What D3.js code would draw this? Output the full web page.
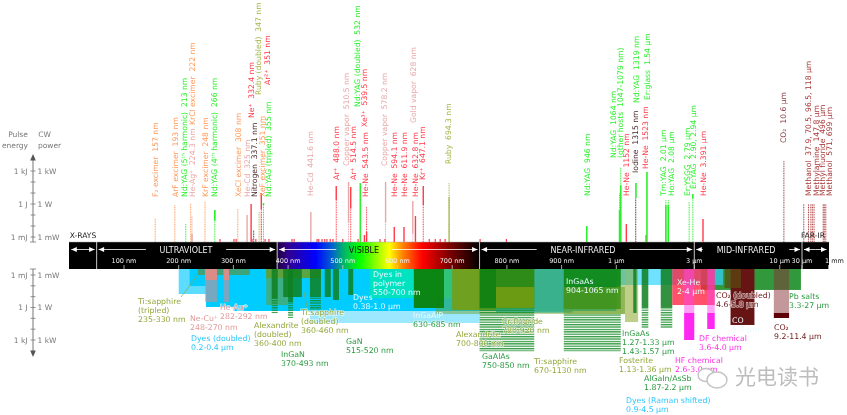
<!DOCTYPE html>
<html><head><meta charset="utf-8">
<script src="https://cdn.jsdelivr.net/npm/d3@7"></script>
<style>html,body{margin:0;background:#fff}svg{display:block;font-family:"DejaVu Sans";filter:blur(.35px)}</style>
</head><body><svg id="c" width="847" height="415"></svg>
<script>
/* ---------- data ---------- */
const lineNames=["F₂ excimer  157 nm","ArF excimer  193 nm","Nd:YAG (5ᵗʰ harmonic)  213 nm","He-Ag⁺  224.3 nm","KrCl excimer  222 nm","KrF excimer  248 nm","Nd:YAG (4ᵗʰ harmonic)  266 nm","XeCl excimer  308 nm","He-Cd  325 nm","Nitrogen  337.1 nm","XeF excimer  351 nm","Nd:YAG (tripled)  355 nm","Ne⁺  332.4 nm","Ruby (doubled)  347 nm","Ar²⁺  351 nm",
"He-Cd  441.6 nm","Ar⁺  488.0 nm","Copper vapor  510.5 nm","Ar⁺  514.5 nm","Nd:YAG (doubled)  532 nm","Xe³⁺  539.5 nm","He-Ne  543.5 nm","Copper vapor  578.2 nm","He-Ne  594.1 nm","He-Ne  611.9 nm","He-Ne  632.8 nm","Gold vapor  628 nm","Kr⁺  647.1 nm","Ruby  694.3 nm",
"Nd:YAG  946 nm","Nd:YAG  1064 nm","(other hosts  1047-1079 nm)","He-Ne  1152 nm","Iodine  1315 nm","Nd:YAG  1319 nm","He-Ne  1523 nm","Er:glass  1.54 µm","Tm:YAG  2.01 µm","Ho:YAG  2.08 µm","Er:YSGG  2.79 µm","Er:YAG  2.90, 2.94 µm","He-Ne  3.391 µm","CO₂  10.6 µm"];
const lineNm=[157,193,213,224.3,222,248,266,308,325,337.1,351,355,332.4,347,351,
441.6,488,510.5,514.5,532,539.5,543.5,578.2,594.1,611.9,632.8,628,647.1,694.3,
946,1064,1047,1152,1315,1319,1523,1540,2010,2080,2790,2940,3391,10600];
const lineKinds=["exc","exc","ss","pink","exc","exc","ss","exc","pink","dark","exc","ss","ion","ruby","ion",
"pink","ion","pink","ion","ss","ion","ion","pink","ion","ion","ion","pink","ion","ruby",
"ss","ss","ss","ion","dark","ss","ion","ss","ss","ss","ss","ss","ion","co2"];
const lineDotted=[.054,.8,.015,.08,1.2,1.9,.28,.35,0,.0044,.19,1.2,0,.19,.3,
0,2.3,.02,.4,0,0,.5,.02,0,0,0,.002,.8,80,
0,2300,10,0,3.5,0,0,0,2.3,2.3,1.5,3,0,8000];
const lineSolidTop=[0,0,0,.002,0,0,.28,0,.1,0,0,1.2,1,0,10,
.19,44,100,35,80,.0015,.003,100,.008,.008,.08,1.9,44,4.4,
.01,50,.28,.015,0,80,.0015,800,.8,.8,0,8,.044,0];
const lineSolidBase=[0,0,0,0,0,0,.03,0,0,0,0,.8,0,0,.3,
0,2.3,.02,.4,0,0,0,.02,0,0,0,.002,.8,0,
0,0,0,0,0,3.5,0,0,0,0,0,3,0,0];
const farIrNames=["Methanol  37.9, 70.5, 96.5, 118 µm","Methylamine  147.8 µm","Methyl fluoride  496 µm","Methanol  571, 699 µm"];
const farIrNm=[37900,70500,96500,118000,147800,496000,571000,699000];
const farIrEnergy=[1,1,1,1,1,1,1,1];
const minorLinesNm=[275.5,301,305,334,341,358,365,407,411,453,456,462,467,471,477,482,500,528,568,577,658,669,678,687,751,799];
const minorLinesPower=[.00065,.00065,.00065,.00065,.00065,.00065,.00065,.00065,.00065,.00065,.00065,.00065,.00065,.00065,.00065,.00065,.00065,.00065,.00065,.00065,.00065,.00065,.00065,.00065,.00065,.00065];

const bandKinds=["dyeLight","dye","dye","dye","dyeFaint","dye","lead","raman","polymer","ti","tiTrip","pinkFaint","pinkSolid","pinkFaint","pinkSolid","tiDbl","alexDbl","gan","gan","gan","gan","gan","gan","gan","gan","solidGreen","alex","cr","gan2","crOver","crOverTop","solidGreen","tiOver","foster","gan","gan","gan","xehe","magFaint","magSolid","magFaint","magSolid","co","coDbl","co2Faint","co2Solid"];
const bandLo=[200,220,250,300,440,380,3300,900,550,670,235,248,248,282,282,360,360,370,391,400,440,467,482,510,630,630,700,780,750,780,780,904,904,1130,1270,1430,1870,2200,2600,2600,3600,3600,5000,4600,9200,9200];
const bandHi=[400,400,400,400,750,1000,27000,4500,700,1130,330,270,270,292,292,460,400,381,425,409,460,478,493,519,685,685,800,920,850,850,850,1065,1130,1360,1330,1570,2200,4000,3000,3000,4000,4000,7000,5800,11400,11400];
const bandFrom=[0,0,0,0,0,0,0,0,0,0,0,0,0,0,0,0,0,0,0,0,0,0,0,0,0,0,0,0,0,.0127,0,0,.0127,0,0,0,0,0,0,3.2,0,3.2,0,0,0,3.2];
const bandTo=[.057,.0104,.9,2.1,27,2.1,.024,.0084,.133,4,.001,.31,.0029,.31,.0029,.0019,.59,.16,.107,.31,.107,.107,.2,.07,1.1,1.1,1.7,3,1.1,1.1,.0127,1.4,4,22,3.2,1.1,1.1,.59,3.2,1000,3.2,97,41,.016,3.2,9.3];

const stripeLo=[370,400,440,750,904,1430,1870];
const stripeHi=[381,409,460,850,1065,1570,2200];
const stripeFrom=[.16,.31,.107,1.1,4,1.1,1.1];
const stripeTo=[3.2,9.3,1.7,11000,11000,77,77];

const noteLines=[["Ti:sapphire","(tripled)","235-330 nm"],["Ne-Cu⁺","248-270 nm"],["He-Au⁺","282-292 nm"],["Dyes (doubled)","0.2-0.4 µm"],["Alexandrite","(doubled)","360-400 nm"],["InGaN","370-493 nm"],["Ti:sapphire","(doubled)","360-460 nm"],["GaN","515-520 nm"],["Dyes","0.38-1.0 µm"],["Dyes in","polymer","550-700 nm"],["InGaAlP","630-685 nm"],["Alexandrite","700-800 nm"],["Cr:fluoride","780-920 nm"],["GaAlAs","750-850 nm"],["Ti:sapphire","670-1130 nm"],["InGaAs","904-1065 nm"],["InGaAs","1.27-1.33 µm","1.43-1.57 µm"],["Fosterite","1.13-1.36 µm"],["AlGaIn/AsSb","1.87-2.2 µm"],["Dyes (Raman shifted)","0.9-4.5 µm"],["HF chemical","2.6-3.0 µm"],["DF chemical","3.6-4.0 µm"],["Xe-He","2-4 µm"],["CO₂ (doubled)","4.6-5.8 µm"],["CO","5-7 µm"],["CO₂","9.2-11.4 µm"],["Pb salts","3.3-27 µm"]];
const noteKinds=["olive","pinkT","pinkT","cyan","olive","green","olive","green","white","white","whiteGreen","olive","olive","green","olive","white","green","olive","green","cyan","mag","mag","white","maroon","white","maroon","green"];

const regionNames=["","ULTRAVIOLET","VISIBLE","NEAR-INFRARED","MID-INFRARED",""];
const regionEdgesNm=[0,50,380,750,3000,30000,1000000];
const outerRegionLabels=["X-RAYS","FAR-IR"];
const tickNm=[100,200,300,400,500,600,700,800,900,1000,3000,10000,30000,1000000];
const tickText=["100 nm","200 nm","300 nm","400 nm","500 nm","600 nm","700 nm","800 nm","900 nm","1 µm","3 µm","10 µm","30 µm","1 mm"];
const decades=[1e-3,1e-2,1e-1,1,10,100,1e3];
const energyLabels=["1 mJ","1 J","1 kJ"], powerLabels=["1 mW","1 W","1 kW"], labelledDecades=[1e-3,1,1e3];
const rainbowNm=[380,400,450,480,500,530,585,610,645,700,750];
const rainbowColors=["#200040","#300090","#0000ff","#0060d0","#00b070","#00ff00","#ffff00","#ff8000","#ff0000","#700000","#000000"];

/* ---------- layout (separate from data) ---------- */
const lineLabelX=[155,175,184,192,192,205,214,238,247,254,262,268,251,258,267,
310,336,346,353,357,364,365,384,394,404,415,413,422,448,
587,613,620,626,635,636,645,647,663,671,687,693,703,783];
const lineLabelBase=[197,197,197,197,125,197,197,197,197,197,197,197,118,95,85,
196,180,166,180,107,127,197,166,197,197,197,123,180,164,
196,158,158,196,173,103,169,100,196,196,196,189,196,143];
const farIrLabelX=[808,816,822,829], farIrLabelBase=[196,196,196,196];
const noteX=[138,190,220,191,254,281,301,346,353,373,413,456,502,482,534,566,622,619,644,626,675,699,677,716,732,774,789];
const noteY=[301,318,307,338,325,354,312,341,297,274,315,334,321,356,361,281,333,360,378,400,360,338,282,295,320,327,296];

/* ---------- scales ---------- */
const W=847,H=415,barTop=242,barBot=269,barL=69,barR=829;
const xNear=d3.scaleLinear().domain([0,1000]).range([69.3,616.3]);
const xFar=d3.scaleLog().domain([1000,12000,30000,1e6]).range([616.3,792.7,802,828.5]);
const x=nm=>nm<=1000?xNear(nm):xFar(nm);
const yUp=d3.scaleLog().domain([1e-3,1e3]).range([237,171]);
const yDn=d3.scaleLog().domain([1e-3,1e3]).range([275,340]);
const svg=d3.select("#c");
const defs=svg.append("defs");

const styleLine={exc:"#ff9a5a",ss:"#2bf02b",pink:"#e8a8a8",ion:"#ff3a48",ruby:"#a4b548",dark:"#4a2a2a",co2:"#8a3c40",fir:"#a83838"};
const styleBand={dyeLight:["#5cdcff",1],dye:["#00ccff",1],dyeFaint:["#9be8ff",1],raman:["#33d4ff",.7],polymer:["#00e2c0",1],lead:["#1f8f2b",.92],ti:["#6b9e23",.45],tiOver:["#6b9e23",.55],tiTrip:["#3da47c",1],pinkFaint:["#d88a8a",.55],pinkSolid:["#d98c88",1],tiDbl:["#6b9e23",.85],alexDbl:["#5f9c3a",.62],gan:["#0f7f1f",.85],gan2:["#0b7f12",.92],solidGreen:["#0b840f",.88],alex:["#6fa020",1],cr:["#3cb08c",.9],crOver:["#7aa010",.85],crOverTop:["#7aa010",.3],foster:["#8aa82a",.55],xehe:["#ff2040",.78],magFaint:["#ff44ee",.5],magSolid:["#ff28f0",1],coDbl:["#5a4a10",.72],co:["#661414",1],co2Faint:["#8a3038",.5],co2Solid:["#5e0008",1]};
const styleNote={olive:"#93a83c",pinkT:"#e09a9a",cyan:"#2cc8ff",green:"#2c9a42",white:"#e8fbff",whiteGreen:"#e8fbff",mag:"#ff30e8",maroon:"#6e1c1c"};

/* ---------- stripes ---------- */
const p=defs.append("pattern").attr("id","stripes").attr("width",3).attr("height",2.4).attr("patternUnits","userSpaceOnUse");
p.append("rect").attr("width",3).attr("height",1.3).attr("fill","#128a22").attr("opacity",.85);

/* ---------- lower bands ---------- */
const gB=svg.append("g");
const yOf=v=>v?yDn(v):barBot;
gB.selectAll("rect").data(bandKinds).join("rect")
 .attr("x",(d,i)=>x(bandLo[i])).attr("width",(d,i)=>x(bandHi[i])-x(bandLo[i]))
 .attr("y",(d,i)=>yOf(bandFrom[i])).attr("height",(d,i)=>yDn(bandTo[i])-yOf(bandFrom[i]))
 .attr("fill",d=>styleBand[d][0]).attr("opacity",d=>styleBand[d][1]);
svg.append("g").selectAll("rect").data(stripeLo).join("rect")
 .attr("x",(d,i)=>x(d)).attr("width",(d,i)=>x(stripeHi[i])-x(d))
 .attr("y",(d,i)=>yDn(stripeFrom[i])).attr("height",(d,i)=>yDn(stripeTo[i])-yDn(stripeFrom[i]))
 .attr("fill","url(#stripes)");

/* leader lines */
svg.append("line").attr("x1",x(235)).attr("y1",yDn(.001)).attr("x2",181).attr("y2",297).attr("stroke","#93a83c").attr("stroke-width",.7);
svg.append("line").attr("x1",304).attr("y1",292).attr("x2",307).attr("y2",307).attr("stroke","#93a83c").attr("stroke-width",.7);

/* ---------- upper lines ---------- */
const gL=svg.append("g");
const lw=k=>k==="ss"?1.6:(k==="ion"||k==="pink")?1.4:1.1;
lineNames.forEach((n,i)=>{
 const c=styleLine[lineKinds[i]], px=x(lineNm[i]);
 if(lineDotted[i]) gL.append("line").attr("x1",px).attr("x2",px).attr("y1",barTop).attr("y2",yUp(lineDotted[i])).attr("stroke",c).attr("stroke-width",1).attr("stroke-dasharray","1 .7");
 if(lineSolidTop[i]) gL.append("line").attr("x1",px).attr("x2",px).attr("y1",lineSolidBase[i]?yUp(lineSolidBase[i]):barTop).attr("y2",yUp(lineSolidTop[i])).attr("stroke",c).attr("stroke-width",lw(lineKinds[i]));
});
farIrNm.forEach((nm,i)=>gL.append("line").attr("x1",x(nm)).attr("x2",x(nm)).attr("y1",barTop).attr("y2",yUp(farIrEnergy[i])).attr("stroke",styleLine.fir).attr("stroke-width",1).attr("stroke-dasharray","1 .7"));
gL.selectAll(".minor").data(minorLinesNm).join("line").attr("class","minor")
 .attr("x1",d=>x(d)).attr("x2",d=>x(d)).attr("y1",barTop).attr("y2",(d,i)=>yUp(minorLinesPower[i])).attr("stroke","#ff3a48").attr("stroke-width",1.2);

/* rotated labels */
const gT=svg.append("g").attr("font-size",7.65);
const rot=(t,px,py,c)=>gT.append("text").attr("transform",`translate(${px},${py}) rotate(-90)`).attr("dy",".35em").attr("fill",c).style("white-space","pre").text(t);
lineNames.forEach((t,i)=>rot(t,lineLabelX[i],lineLabelBase[i],styleLine[lineKinds[i]]));
farIrNames.forEach((t,i)=>rot(t,farIrLabelX[i],farIrLabelBase[i],styleLine.fir));

/* ---------- spectrum bar ---------- */
const grad=defs.append("linearGradient").attr("id","vis").attr("gradientUnits","userSpaceOnUse").attr("x1",x(380)).attr("x2",x(750));
rainbowNm.forEach((nm,i)=>grad.append("stop").attr("offset",(x(nm)-x(380))/(x(750)-x(380))).attr("stop-color",rainbowColors[i]));
svg.append("rect").attr("x",barL).attr("y",barTop).attr("width",barR-barL).attr("height",barBot-barTop).attr("fill","#000");
svg.append("rect").attr("x",x(380)).attr("y",barTop).attr("width",x(750)-x(380)).attr("height",barBot-barTop).attr("fill","url(#vis)");
svg.append("line").attr("x1",barL).attr("x2",barR).attr("y1",barTop).attr("y2",barTop).attr("stroke","#aaa").attr("stroke-width",.5);

const aY=249.5;
const head=(px,dir)=>svg.append("path").attr("d",`M${px},${aY}l${dir*5.5},-2.6v5.2z`).attr("fill","#fff");
regionNames.forEach((name,i)=>{
 const a=x(regionEdgesNm[i]),b=x(regionEdgesNm[i+1]),m=(name==="NEAR-INFRARED")?583:(name==="MID-INFRARED")?746:(name==="VISIBLE")?364:(name==="ULTRAVIOLET")?186:(a+b)/2;
 const hw=name?name.length*3.1+6:0;
 svg.append("line").attr("x1",a+2).attr("x2",m-hw).attr("y1",aY).attr("y2",aY).attr("stroke","#fff").attr("stroke-width",.8);
 svg.append("line").attr("x1",m+hw).attr("x2",b-2).attr("y1",aY).attr("y2",aY).attr("stroke","#fff").attr("stroke-width",.8);
 head(a+2,1);head(b-2,-1);
 if(name) svg.append("text").attr("x",m).attr("y",aY+3).attr("text-anchor","middle").attr("font-size",8).attr("fill",name==="VISIBLE"?"#111":"#eee").text(name);
 if(i<regionNames.length-1) svg.append("line").attr("x1",b).attr("x2",b).attr("y1",barTop).attr("y2",barBot).attr("stroke","#ddd").attr("stroke-width",.9);
});
svg.selectAll(".tk").data(tickNm).join("line").attr("class","tk").attr("x1",d=>x(d)).attr("x2",d=>x(d)).attr("y1",265).attr("y2",barBot).attr("stroke","#ccc").attr("stroke-width",.8);
const tl=svg.selectAll(".tl").data(tickText).join("text").attr("class","tl").attr("x",(d,i)=>x(tickNm[i])).attr("y",263).attr("text-anchor","middle").attr("font-size",6.5).attr("fill","#eee");
tl.filter(d=>d!=="1 mm").text(d=>d);
tl.filter(d=>d==="1 mm").attr("text-anchor","start").attr("x",825).call(s=>{s.append("tspan").attr("fill","#eee").text("1 ");s.append("tspan").attr("fill","#222").text("mm");});
svg.append("text").attr("x",83).attr("y",238).attr("text-anchor","middle").attr("font-size",7.6).attr("fill","#222").text(outerRegionLabels[0]);
svg.append("text").attr("x",813).attr("y",238).attr("text-anchor","middle").attr("font-size",7.6).attr("fill","#222").text(outerRegionLabels[1]);

/* ---------- left axes ---------- */
const axC="#777",axG=svg.append("g"),ax=33;
axG.append("line").attr("x1",ax).attr("x2",ax).attr("y1",160).attr("y2",barTop).attr("stroke",axC);
axG.append("line").attr("x1",ax).attr("x2",ax).attr("y1",barBot).attr("y2",351).attr("stroke",axC);
axG.append("path").attr("d","M33,154l2.8,6.5h-5.6z").attr("fill","#555");
axG.append("path").attr("d","M33,357l2.8,-6.5h-5.6z").attr("fill","#555");
[yUp,yDn].forEach(sc=>axG.append("g").selectAll("line").data(decades).join("line").attr("x1",ax-2.5).attr("x2",ax+2.5).attr("y1",d=>sc(d)).attr("y2",d=>sc(d)).attr("stroke",axC).attr("stroke-width",.8));
[barTop,barBot].forEach(y=>axG.append("line").attr("x1",ax-3).attr("x2",ax+3).attr("y1",y).attr("y2",y).attr("stroke",axC).attr("stroke-width",.8));
[yUp,yDn].forEach(sc=>{
 axG.append("g").selectAll("text").data(energyLabels).join("text").attr("x",27.5).attr("y",(d,i)=>sc(labelledDecades[i])+2.7).attr("text-anchor","end").attr("font-size",7.5).attr("fill",axC).text(d=>d);
 axG.append("g").selectAll("text").data(powerLabels).join("text").attr("x",37.5).attr("y",(d,i)=>sc(labelledDecades[i])+2.7).attr("font-size",7.5).attr("fill",axC).text(d=>d);
});
[["Pulse",18,137],["energy",15,148],["CW",44.5,137],["power",49.5,148]].forEach(a=>axG.append("text").attr("x",a[1]).attr("y",a[2]).attr("text-anchor","middle").attr("font-size",7.5).attr("fill",axC).text(a[0]));

/* ---------- notes ---------- */
const gN=svg.append("g").attr("font-size",7.8);
noteLines.forEach((lines,i)=>{
 lines.forEach((t,j)=>{
  const k=noteKinds[i]==="whiteGreen"&&j>0?"green":noteKinds[i];
  const tx=gN.append("text").attr("x",noteX[i]).attr("y",noteY[i]+j*9.4+2.5).attr("fill",styleNote[k]).text(t);
  if(k!=="white"&&k!=="whiteGreen") tx.attr("stroke","#fff").attr("stroke-opacity",.65).attr("stroke-width",1.4).style("paint-order","stroke");
 });
});

/* ---------- watermark ---------- */
const wm=svg.append("g").attr("stroke","#c4c4c4").attr("fill","#fff").attr("stroke-width",1.4);
wm.append("ellipse").attr("cx",706).attr("cy",375).attr("rx",8).attr("ry",6.5);
wm.append("ellipse").attr("cx",717).attr("cy",380).attr("rx",10).attr("ry",8);
svg.append("text").attr("x",735).attr("y",384).attr("font-family","'Noto Sans CJK SC'").attr("font-size",21).attr("fill","#bdbdbd").text("光电读书");
</script></body></html>
